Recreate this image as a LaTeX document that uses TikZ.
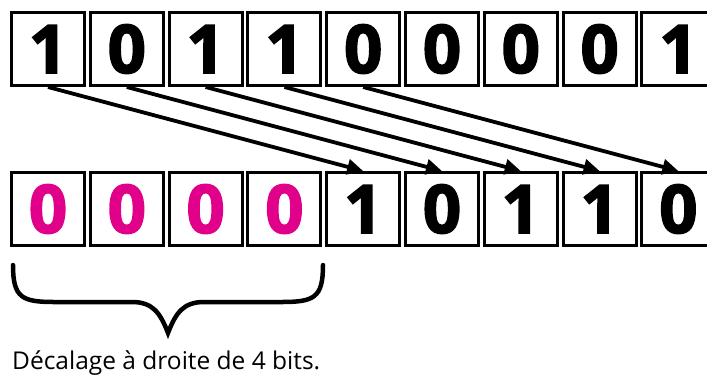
\documentclass[tikz,border=0pt]{standalone}
\usepackage{fontspec}
\setmainfont{Open Sans}
\newfontfamily\chiffres[BoldFeatures={FakeBold=2.5}]{Open Sans}
\usepackage{xcolor}
\usetikzlibrary{arrows.meta, positioning}

\definecolor{bitpink}{RGB}{224,0,138}

\begin{document}
\begin{tikzpicture}[x=1pt,y=-1pt,
  bit/.style={draw=black, line width=3pt, minimum size=73pt, inner sep=0pt,
    font=\chiffres\fontsize{67}{67}\selectfont\bfseries},
  decale/.style={line width=3.8pt, -{Triangle[length=16pt,width=15pt]}}]
  \useasboundingbox (0,0) rectangle (707,376);
  \clip (0,0) rectangle (707,376);
  % pitch between boxes
  \def\pas{78.8}
  % top row: the byte before the shift
  \foreach \b [count=\i] in {1,0,1,1,0,0,0,0,1} {
    \node[bit] (t\i) at ({48+(\i-1)*\pas},49) {\b};
  }
  % bottom row: four zeros come in from the left
  \foreach \i in {1,...,4} {
    \node[bit, text=bitpink] (b\i) at ({48+(\i-1)*\pas},209) {0};
  }
  \foreach \b [count=\i from 5] in {1,0,1,1,0} {
    \node[bit] (b\i) at ({48+(\i-1)*\pas},209) {\b};
  }
  % each bit moves four places to the right
  \foreach \i in {1,...,5} {
    \pgfmathtruncatemacro\j{\i+4}
    \draw[decale] (t\i.south) -- (b\j.north);
  }
  % brace under the new bits
  \coordinate (gauche) at (13,265);
  \coordinate (pointe) at (168,333);
  \coordinate (droite) at (323,265);
  \draw[line width=4.5pt, line cap=round]
    (gauche) .. controls (13,298) and (22,302) .. (55,302) -- (132,302)
    .. controls (152,302) and (160,312) .. (pointe)
    .. controls (176,312) and (184,302) .. (204,302) -- (281,302)
    .. controls (314,302) and (323,298) .. (droite);
  \node[anchor=base west, inner sep=0pt, font=\fontsize{24.5}{24.5}\selectfont]
    (legende) at (12,369) {Décalage à droite de 4 bits.};
\end{tikzpicture}
\end{document}
